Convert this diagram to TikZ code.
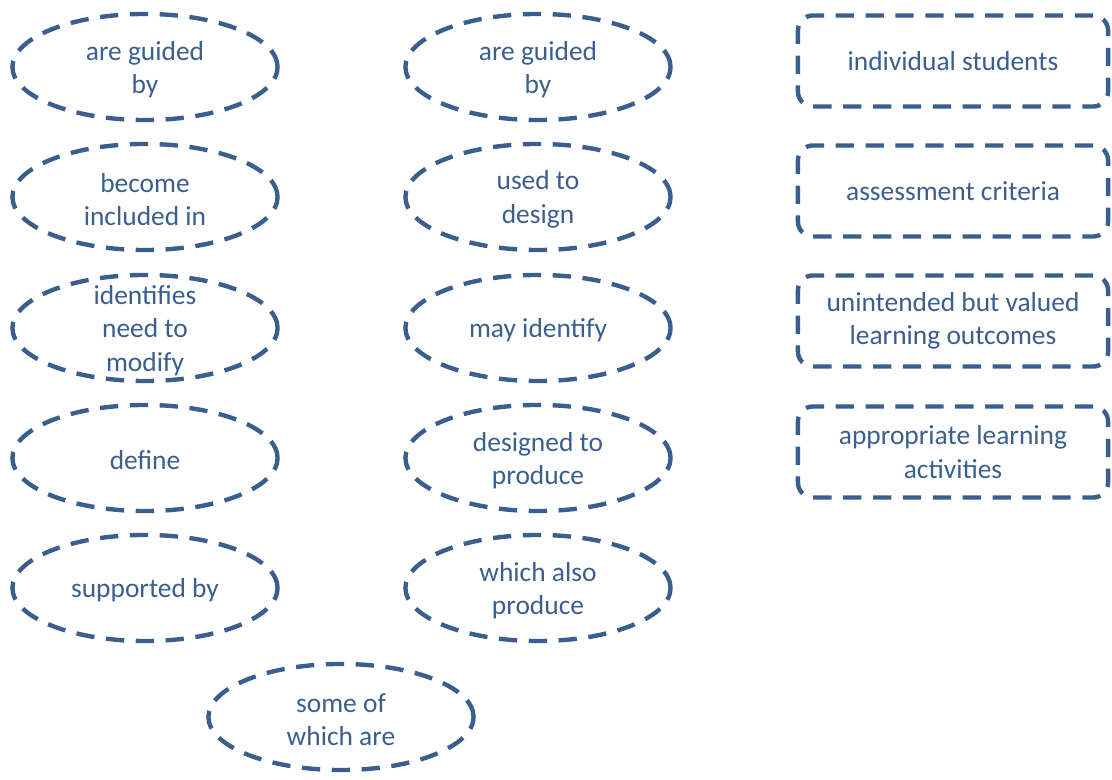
\documentclass[tikz,border=0pt]{standalone}
\usepackage{fontspec}
\setmainfont{Carlito}
\usetikzlibrary{shapes.geometric}
\definecolor{mapblue}{RGB}{58,95,143}

\begin{document}
\begin{tikzpicture}[x=0.01cm,y=-0.01cm,
  every node/.style={font=\fontsize{7.8}{9.5}\selectfont,text=mapblue},
  oval/.style={draw=mapblue,ellipse,line width=1.25pt,dash pattern=on 5.2pt off 3.3pt,minimum width=2.65cm,minimum height=1.06cm,inner sep=0pt},
  crit/.style={draw=mapblue,rounded corners=1.5mm,line width=1.25pt,dash pattern=on 5.2pt off 3.3pt,minimum width=3.1cm,minimum height=0.91cm,align=center},
  lbl/.style={align=center,yshift=-0.025cm}]
\useasboundingbox (0,0) rectangle (1112,780);
% left column of linking phrases
\node[oval] (guidedA) at (145,67) {};
\node[lbl] (guidedAt) at (guidedA) {are guided\\by};
\node[oval] (included) at (145,197) {};
\node[lbl] (includedt) at (included) {become\\included in};
\node[oval] (modify) at (145,328) {};
\node[lbl] (modifyt) at (modify) {identifies\\need to\\modify};
\node[oval] (define) at (145,458) {};
\node[lbl] (definet) at (define) {define};
\node[oval] (supported) at (145,588) {};
\node[lbl] (supportedt) at (supported) {supported by};
% middle column
\node[oval] (guidedB) at (538,67) {};
\node[lbl] (guidedBt) at (guidedB) {are guided\\by};
\node[oval] (design) at (538,197) {};
\node[lbl] (designt) at (design) {used to\\design};
\node[oval] (identify) at (538,328) {};
\node[lbl] (identifyt) at (identify) {may identify};
\node[oval] (produce) at (538,458) {};
\node[lbl] (producet) at (produce) {designed to\\produce};
\node[oval] (alsoprod) at (538,588) {};
\node[lbl] (alsoprodt) at (alsoprod) {which also\\produce};
\node[oval] (someof) at (341,717) {};
\node[lbl] (someoft) at (someof) {some of\\which are};
% concepts
\node[crit] (students) at (953,61) {individual students};
\node[crit] (criteria) at (953,191) {assessment criteria};
\node[crit] (outcomes) at (953,321) {unintended but valued\\learning outcomes};
\node[crit] (activities) at (953,452) {appropriate learning\\activities};
\end{tikzpicture}
\end{document}
